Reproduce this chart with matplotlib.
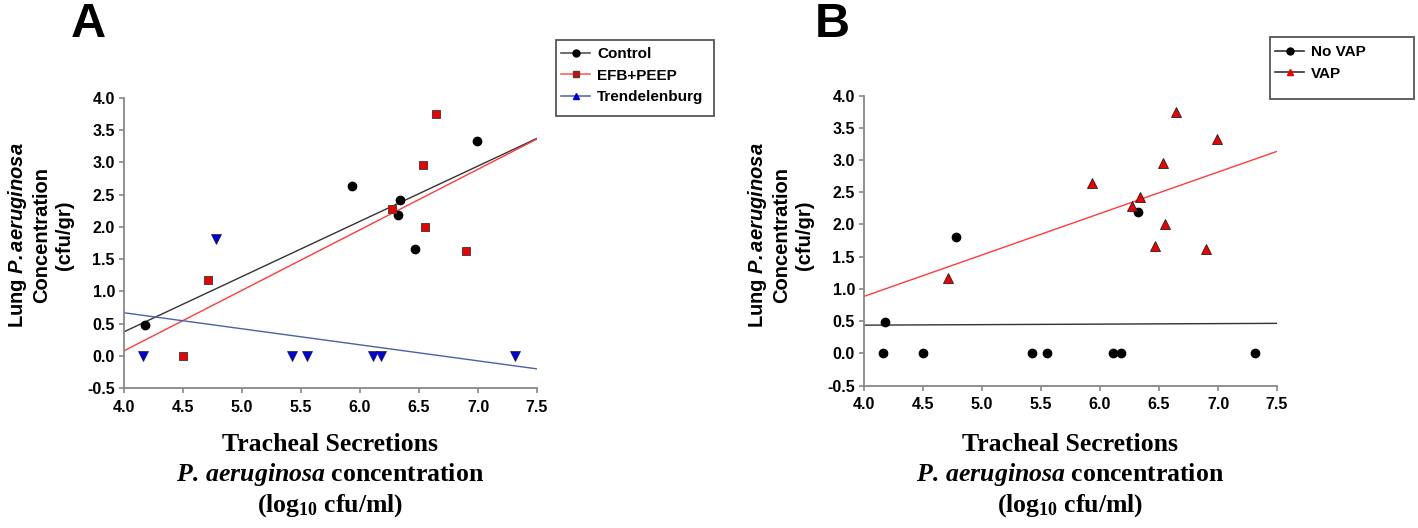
import numpy as np
import matplotlib
matplotlib.use("Agg")
import matplotlib.pyplot as plt
from matplotlib.lines import Line2D
from matplotlib.patches import Rectangle

plt.rcParams['font.family'] = ['Liberation Sans', 'DejaVu Sans']
plt.rcParams['mathtext.fontset'] = 'custom'
plt.rcParams['mathtext.bf'] = 'Liberation Sans:italic:bold'
plt.rcParams['mathtext.it'] = 'Liberation Serif:italic:bold'
plt.rcParams['mathtext.rm'] = 'Liberation Serif:bold'

# panel A: groups
control_x = [4.18, 5.93, 6.34, 6.32, 6.47, 6.99]
control_y = [0.48, 2.64, 2.42, 2.19, 1.66, 3.33]
efb_x = [4.50, 4.71, 6.27, 6.53, 6.55, 6.64, 6.90]
efb_y = [0.00, 1.17, 2.28, 2.96, 2.00, 3.75, 1.62]
trend_x = [4.16, 4.78, 5.42, 5.55, 6.11, 6.18, 7.31]
trend_y = [0.00, 1.81, 0.00, 0.00, 0.00, 0.00, 0.00]

# panel B: VAP / no VAP
novap_x = [4.16, 4.18, 4.50, 4.78, 5.42, 5.55, 6.11, 6.18, 6.32, 7.31]
novap_y = [0.00, 0.48, 0.00, 1.81, 0.00, 0.00, 0.00, 0.00, 2.19, 0.00]
vap_x = [4.71, 5.93, 6.27, 6.34, 6.47, 6.53, 6.55, 6.64, 6.90, 6.99]
vap_y = [1.17, 2.64, 2.28, 2.42, 1.66, 2.96, 2.00, 3.75, 1.62, 3.33]

xticks = [4.0, 4.5, 5.0, 5.5, 6.0, 6.5, 7.0, 7.5]
yticks = [-0.5, 0.0, 0.5, 1.0, 1.5, 2.0, 2.5, 3.0, 3.5, 4.0]

W, H = 1418, 528
fig = plt.figure(figsize=(W / 100, H / 100), dpi=100)


def fitline(ax, x, y, color):
    m, b = np.polyfit(x, y, 1)
    xx = np.array([4.0, 7.5])
    ax.plot(xx, m * xx + b, color=color, lw=1.0, zorder=2)


def style(ax):
    ax.set_xlim(4.0, 7.5)
    ax.set_ylim(-0.5, 4.0)
    ax.set_xticks(xticks)
    ax.set_yticks(yticks)
    ax.set_xticklabels(['%.1f' % v for v in xticks])
    ax.set_yticklabels(['%.1f' % v for v in yticks])
    for s in ['top', 'right']:
        ax.spines[s].set_visible(False)
    for s in ['left', 'bottom']:
        ax.spines[s].set_color('#888888')
        ax.spines[s].set_linewidth(1.3)
    ax.tick_params(axis='both', direction='out', length=3.5, width=1.2,
                   color='#888888', labelsize=11.5)
    ax.tick_params(axis='x', pad=5)
    ax.tick_params(axis='y', pad=3)
    for lab in ax.get_xticklabels() + ax.get_yticklabels():
        lab.set_fontweight('bold')


def labels(axleft_px, axcenter_px):
    fig.text((axleft_px - 84) / W, 1 - 235 / H,
             'Lung $\\mathbf{P.aeruginosa}$\nConcentration\n(cfu/gr)',
             rotation=90, ha='center', va='center', multialignment='center',
             fontsize=14.5, fontweight='bold', linespacing=1.25)
    fig.text(axcenter_px / W, 1 - 476 / H,
             'Tracheal Secretions\n$\\mathit{P.\\,aeruginosa}$ concentration\n(log$_{10}$ cfu/ml)',
             ha='center', va='center', multialignment='center',
             fontsize=18.5, fontweight='bold', family='Liberation Serif',
             linespacing=1.25)


def legend_box(x0, y0, x1, y1, handles, names, textx, texty):
    fig.patches.append(Rectangle((x0 / W, 1 - y1 / H), (x1 - x0) / W, (y1 - y0) / H,
                                 transform=fig.transFigure, fill=False,
                                 edgecolor='#555555', lw=1.3))
    leg = fig.legend(handles, names, loc='upper left',
                     bbox_to_anchor=(textx / W, 1 - texty / H),
                     prop={'weight': 'bold', 'size': 11, 'family': 'Liberation Sans'},
                     frameon=False, handlelength=1.9, handletextpad=0.45,
                     labelspacing=0.5, borderpad=0, borderaxespad=0)
    return leg


# ---- panel A
axA = fig.add_axes([124 / W, 1 - 388 / H, 413 / W, 290 / H])
fitline(axA, control_x, control_y, '#333333')
fitline(axA, efb_x, efb_y, '#ff3b3b')
fitline(axA, trend_x, trend_y, '#4a62a8')
axA.plot(control_x, control_y, 'o', color='black', ms=6, zorder=3)
axA.plot(efb_x, efb_y, 's', mfc='#ee0000', mec='#444444', mew=0.7, ms=5.5, zorder=3)
axA.plot(trend_x, trend_y, 'v', mfc='#0000dd', mec='#222222', mew=0.5, ms=7, zorder=3)
style(axA)
labels(124, 330)
fig.text(88 / W, 1 - 37 / H, 'A', fontsize=35, fontweight='bold', ha='center', va='baseline')

hA = [Line2D([], [], color='#555555', lw=1.2, marker='o', mfc='black', mec='black', ms=5),
      Line2D([], [], color='#ff6060', lw=1.2, marker='s', mfc='#ee0000', mec='#444444', ms=5),
      Line2D([], [], color='#5a6ea8', lw=1.2, marker='^', mfc='#0000dd', mec='#0000dd', ms=5)]
legend_box(556, 40, 714, 116, hA, ['Control', 'EFB+PEEP', 'Trendelenburg'], 561, 47)

# ---- panel B
axB = fig.add_axes([864 / W, 1 - 385.5 / H, 413 / W, 290 / H])
fitline(axB, novap_x, novap_y, '#333333')
fitline(axB, vap_x, vap_y, '#ff3b3b')
axB.plot(novap_x, novap_y, 'o', color='black', ms=6, zorder=3)
axB.plot(vap_x, vap_y, '^', mfc='#ee0000', mec='#222222', mew=0.6, ms=7.5, zorder=3)
style(axB)
labels(864, 1070)
fig.text(832 / W, 1 - 37 / H, 'B', fontsize=35, fontweight='bold', ha='center', va='baseline')

hB = [Line2D([], [], color='#333333', lw=1.2, marker='o', mfc='black', mec='black', ms=5),
      Line2D([], [], color='#333333', lw=1.2, marker='^', mfc='#ee0000', mec='#ee0000', ms=5)]
legend_box(1270, 37, 1414, 99, hB, ['No VAP', 'VAP'], 1275, 45)

fig.savefig('out.png', dpi=100)
